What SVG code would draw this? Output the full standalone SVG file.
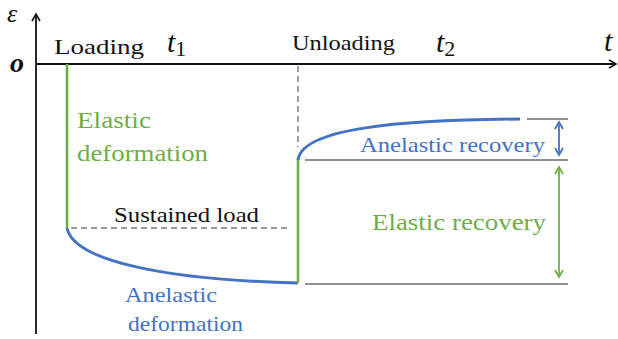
<svg xmlns="http://www.w3.org/2000/svg" width="618" height="339" viewBox="0 0 618 339">
<style>
text{font-family:"Times New Roman","Liberation Serif","DejaVu Serif","Noto Serif",FreeSerif,Georgia,serif;}
.blk{fill:#111;}
.grn{fill:#70AD47;}
.blu{fill:#4472C4;}
.math{font-style:italic;fill:#111;}
.axis{stroke:#111;stroke-width:1.8;fill:none;}
.ref{stroke:#222;stroke-width:1.2;fill:none;}
.dash{stroke:#777;stroke-width:1.4;stroke-dasharray:6,4;fill:none;}
.gl{stroke:#70AD47;stroke-width:2.6;fill:none;}
.bl{stroke:#4472C4;stroke-width:3;fill:none;}
</style>
<defs>
<marker id="ah" markerWidth="10" markerHeight="10" refX="8" refY="5" orient="auto" markerUnits="userSpaceOnUse">
<path d="M1,1 L8,5 L1,9" fill="none" stroke="#111" stroke-width="1.6"/>
</marker>
<marker id="ahb" markerWidth="10" markerHeight="10" refX="8" refY="5" orient="auto-start-reverse" markerUnits="userSpaceOnUse">
<path d="M1,1 L8,5 L1,9" fill="none" stroke="#4472C4" stroke-width="1.8"/>
</marker>
<marker id="ahg" markerWidth="10" markerHeight="10" refX="8" refY="5" orient="auto-start-reverse" markerUnits="userSpaceOnUse">
<path d="M1,1 L8,5 L1,9" fill="none" stroke="#70AD47" stroke-width="1.8"/>
</marker>
</defs>
<g id="axes">
<line class="axis" x1="36" y1="334" x2="36" y2="14" marker-end="url(#ah)"/>
<line class="axis" x1="36" y1="64" x2="616" y2="64" marker-end="url(#ah)"/>
<text x="7" y="22" class="math" font-size="26">ε</text>
<text x="10" y="72" class="math" font-weight="bold" font-size="28">o</text>
<text x="604" y="51" class="math" font-size="30">t</text>
</g>
<g id="labels-top">
<text x="54" y="54" class="blk" font-size="22" textLength="90" lengthAdjust="spacingAndGlyphs">Loading</text>
<text x="167" y="52" class="math" font-size="30">t<tspan font-size="22" font-style="normal" dy="4">1</tspan></text>
<text x="292" y="50" class="blk" font-size="21" textLength="103" lengthAdjust="spacingAndGlyphs">Unloading</text>
<text x="436" y="52" class="math" font-size="30">t<tspan font-size="22" font-style="normal" dy="4">2</tspan></text>
</g>
<g id="connectors">
<line class="gl" x1="67" y1="64" x2="67" y2="228"/>
<line class="dash" x1="71" y1="228" x2="288" y2="228"/>
<path class="bl" d="M67,228 C74,262 170,280 298,283"/>
<line class="gl" x1="298" y1="283" x2="298" y2="158"/>
<line class="dash" x1="298" y1="66" x2="298" y2="147"/>
<path class="bl" d="M298,160 C302,128 400,120 520,119"/>
<line class="ref" x1="527" y1="119" x2="568" y2="119"/>
<line class="ref" x1="305" y1="160" x2="568" y2="160"/>
<line class="ref" x1="305" y1="284" x2="568" y2="284"/>
<line x1="559" y1="122" x2="559" y2="155" stroke="#4472C4" stroke-width="1.8" marker-start="url(#ahb)" marker-end="url(#ahb)"/>
<line x1="559" y1="167" x2="559" y2="277" stroke="#70AD47" stroke-width="1.8" marker-start="url(#ahg)" marker-end="url(#ahg)"/>
</g>
<g id="elastic-deformation">
<text x="77" y="128" class="grn" font-size="24" textLength="74" lengthAdjust="spacingAndGlyphs">Elastic</text>
<text x="77" y="161" class="grn" font-size="24" textLength="131" lengthAdjust="spacingAndGlyphs">deformation</text>
</g>
<g id="sustained-load">
<text x="114" y="222" class="blk" font-size="21" textLength="145" lengthAdjust="spacingAndGlyphs">Sustained load</text>
</g>
<g id="anelastic-deformation">
<text x="125" y="302" class="blu" font-size="22" textLength="92" lengthAdjust="spacingAndGlyphs">Anelastic</text>
<text x="128" y="331" class="blu" font-size="22" textLength="115" lengthAdjust="spacingAndGlyphs">deformation</text>
</g>
<g id="anelastic-recovery">
<text x="360" y="152" class="blu" font-size="22" textLength="185" lengthAdjust="spacingAndGlyphs">Anelastic recovery</text>
</g>
<g id="elastic-recovery">
<text x="372" y="230" class="grn" font-size="24" textLength="174" lengthAdjust="spacingAndGlyphs">Elastic recovery</text>
</g>
</svg>
